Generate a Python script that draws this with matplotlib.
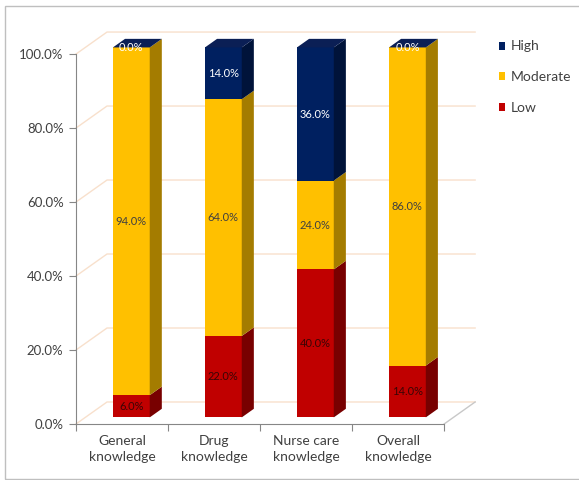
import matplotlib
matplotlib.use('Agg')
import matplotlib.pyplot as plt
from matplotlib.patches import Polygon, Rectangle
from matplotlib.ticker import FuncFormatter

plt.rcParams['font.family'] = ['Lato', 'DejaVu Sans']

categories = ['General\nknowledge', 'Drug\nknowledge', 'Nurse care\nknowledge', 'Overall\nknowledge']
low = [6.0, 22.0, 40.0, 14.0]
moderate = [94.0, 64.0, 24.0, 86.0]
high = [0.0, 14.0, 36.0, 0.0]

series = [('Low', low, '#C00000', '#780000', '#3a0505'),
          ('Moderate', moderate, '#FFC000', '#A47C00', '#404040'),
          ('High', high, '#002060', '#00133A', 'white')]

# pseudo 3d depth (data units)
DX, DY = 0.337, 5.95          # wall depth
F0, FD = 0.30, 0.39           # bar front position / bar depth as fraction of wall depth
W = 0.40

fig = plt.figure(figsize=(5.79, 4.80), dpi=100)
ax = fig.add_axes([76 / 579, 56 / 480, 404 / 579, 394 / 480])
ax.set_xlim(-0.5, 3.89)
ax.set_ylim(0, 106.5)

grid_col = '#F8E0CC'
axis_col = '#868686'

# walls: gridlines
for v in range(0, 101, 20):
    ax.plot([-0.5, -0.5 + DX, 3.5 + DX], [v, v + DY, v + DY], color=grid_col, lw=1, zorder=1, clip_on=False)
ax.plot([3.5, 3.5 + DX], [0, DY], color='#C8C8C8', lw=1, zorder=1)

# bars
ox, oy = F0 * DX, F0 * DY
bx, by = FD * DX, FD * DY
handles = {}
bottoms = [0.0] * len(categories)
for name, vals, col, side, tcol in series:
    xs = [i + ox for i in range(len(categories))]
    bars = ax.bar(xs, vals, width=W, bottom=[b + oy for b in bottoms], color=col, zorder=3, label=name)
    handles[name] = bars
    for i, v in enumerate(vals):
        x1 = xs[i] + W / 2
        y0 = bottoms[i] + oy
        y1 = y0 + v
        ax.add_patch(Polygon([(x1, y0), (x1 + bx, y0 + by), (x1 + bx, y1 + by), (x1, y1)],
                             closed=True, facecolor=side, edgecolor='none', zorder=3))
        ax.text(xs[i], y0 + v / 2, '%.1f%%' % v, ha='center', va='center',
                fontsize=8, color=tcol, zorder=5)
    bottoms = [b + v for b, v in zip(bottoms, vals)]

# top faces
for i, tot in enumerate(bottoms):
    x0 = i + ox - W / 2
    y = tot + oy
    ax.add_patch(Polygon([(x0, y), (x0 + W, y), (x0 + W + bx, y + by), (x0 + bx, y + by)],
                         closed=True, facecolor='#0B1F55', edgecolor='none', zorder=4))

# axes
for s in ['top', 'right']:
    ax.spines[s].set_visible(False)
ax.spines['left'].set_bounds(0, 100)
ax.spines['bottom'].set_bounds(-0.5, 3.5)
for s in ['left', 'bottom']:
    ax.spines[s].set_color(axis_col)
ax.set_yticks(range(0, 101, 20))
ax.yaxis.set_major_formatter(FuncFormatter(lambda v, p: '%.1f%%' % v))
ax.tick_params(axis='y', colors=axis_col, labelcolor='#404040', labelsize=9.5, length=5, pad=4)
ax.set_xticks([-0.5, 0.5, 1.5, 2.5, 3.5])
ax.set_xticklabels([])
ax.set_xticks(range(len(categories)), minor=True)
ax.set_xticklabels(categories, minor=True)
ax.tick_params(axis='x', which='major', colors=axis_col, length=5)
ax.tick_params(axis='x', which='minor', length=0, labelcolor='#404040', labelsize=10, pad=8)
for lab in ax.get_xticklabels(minor=True):
    lab.set_linespacing(1.35)

ax.legend([handles['High'], handles['Moderate'], handles['Low']], ['High', 'Moderate', 'Low'],
          loc='upper left', bbox_to_anchor=(486 / 579, 1 - 28 / 480), bbox_transform=fig.transFigure,
          frameon=False, fontsize=10, handlelength=0.5, handleheight=0.5, handletextpad=0.4,
          labelspacing=1.35, labelcolor='#404040')

fig.add_artist(Rectangle((5 / 579, 1 / 480), 1.2, 473 / 480, transform=fig.transFigure,
                         fill=False, edgecolor='#BFBFBF', lw=1))

fig.savefig('out.png', dpi=100)
